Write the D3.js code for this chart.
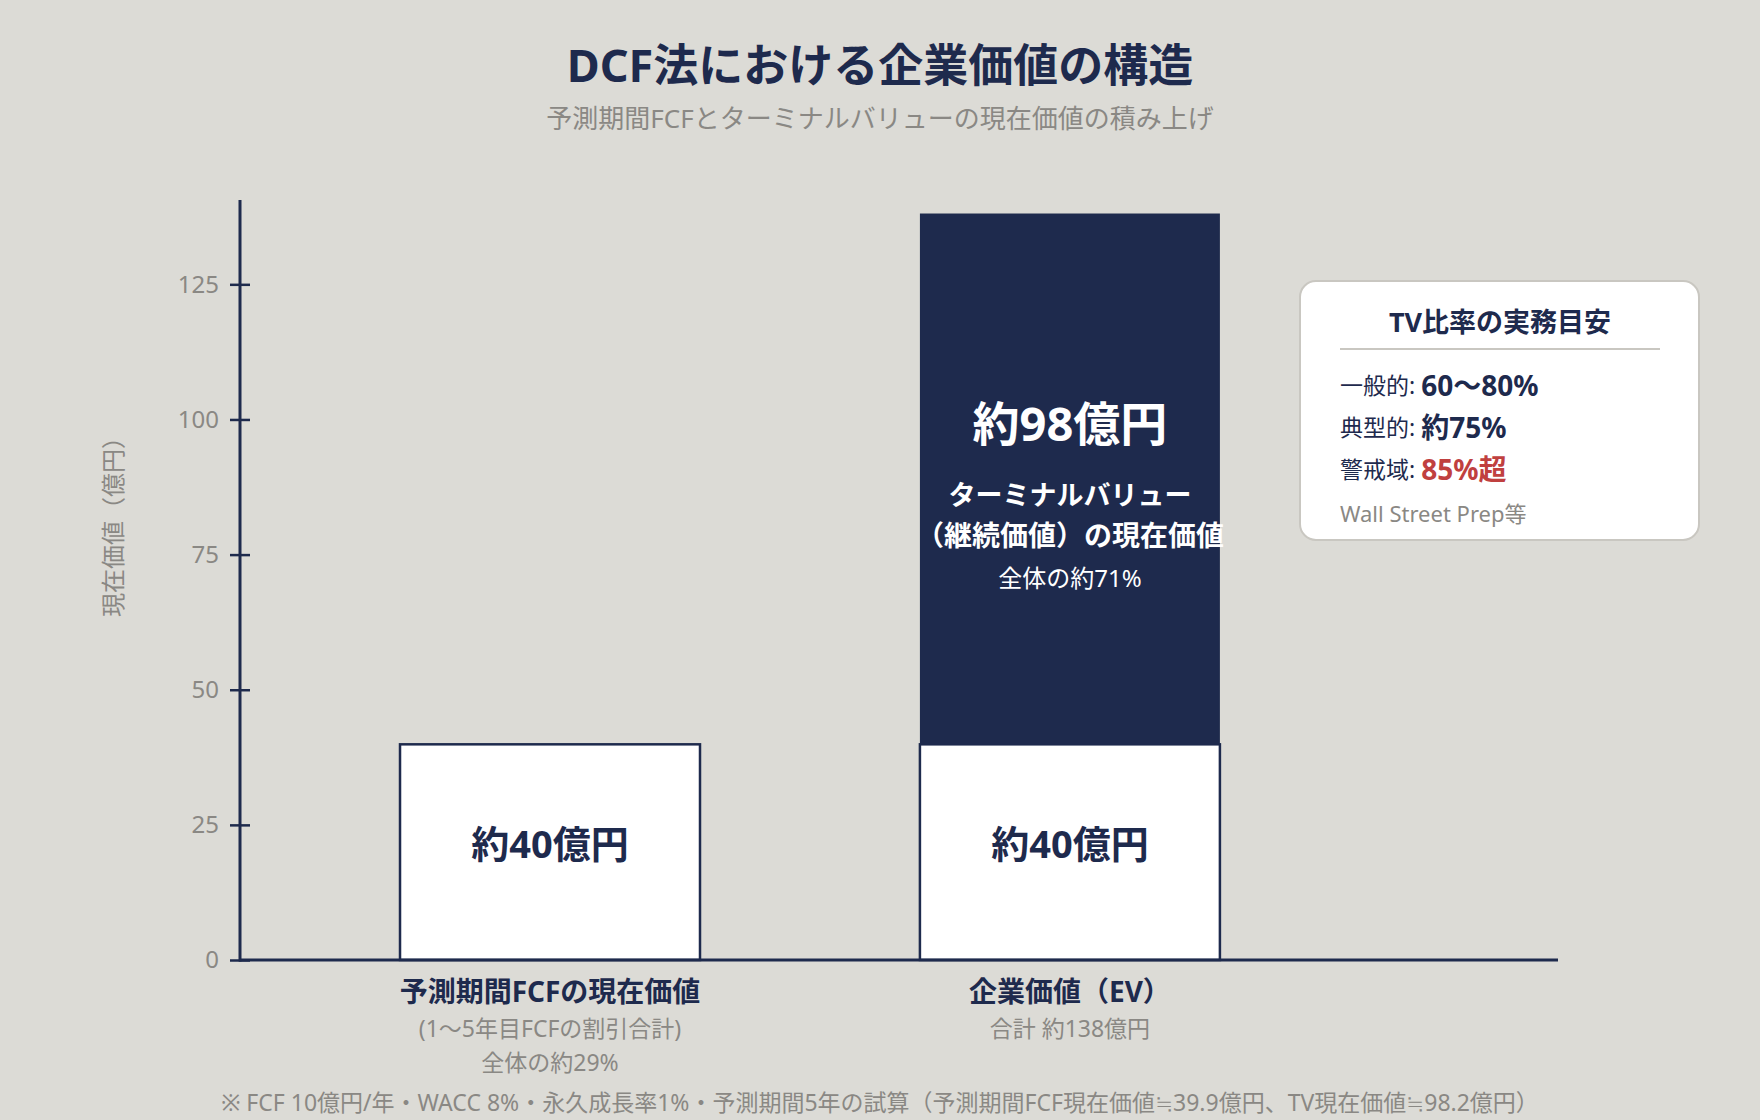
<!DOCTYPE html>
<html lang="ja">
<head>
<meta charset="utf-8">
<script src="https://cdn.jsdelivr.net/npm/d3@7/dist/d3.min.js"></script>
<style>
  html, body { margin: 0; padding: 0; background: #dcdbd6; }
  svg { display: block; font-family: "Noto Sans", "Noto Sans CJK JP", sans-serif; }
</style>
</head>
<body>
<div id="chart"></div>
<script>
// values (億円)
const categories = ['予測期間FCFの現在価値', '企業価値（EV）'];
const subLabels = [['(1〜5年目FCFの割引合計)', '全体の約29%'], ['合計 約138億円']];
const fcfValues = [39.9, 39.9];
const tvValues = [0, 98.2];
const segmentKeys = ['fcf', 'tv'];
const yTicks = [0, 25, 50, 75, 100, 125];
const yMax = 140.6;

const fcfLabels = ['約40億円', '約40億円'];
const tvLabel = ['約98億円', 'ターミナルバリュー', '（継続価値）の現在価値', '全体の約71%'];

const guideTitle = 'TV比率の実務目安';
const guideRows = [
  { label: '一般的: ', value: '60〜80%', warn: false },
  { label: '典型的: ', value: '約75%', warn: false },
  { label: '警戒域: ', value: '85%超', warn: true }
];
const guideSource = 'Wall Street Prep等';

const NAVY = '#1e2a4d';
const GRAY = '#8a8884';
const RED = '#c0403f';

const width = 1760, height = 1120;
const svg = d3.select('#chart').append('svg')
  .attr('width', width)
  .attr('height', height);

svg.append('rect').attr('width', width).attr('height', height).attr('fill', '#dcdbd6');

// title
svg.append('text')
  .attr('x', 880).attr('y', 64)
  .attr('text-anchor', 'middle').attr('dominant-baseline', 'central')
  .attr('font-size', 45).attr('font-weight', 700).attr('fill', NAVY)
  .text('DCF法における企業価値の構造');

svg.append('text')
  .attr('x', 880).attr('y', 118)
  .attr('text-anchor', 'middle').attr('dominant-baseline', 'central')
  .attr('font-size', 26).attr('fill', GRAY)
  .text('予測期間FCFとターミナルバリューの現在価値の積み上げ');

// scales
const x = d3.scaleBand()
  .domain(categories)
  .range([239, 1558])
  .paddingInner(0.423)
  .paddingOuter(0.48)
  .align(0.3226);

const y = d3.scaleLinear()
  .domain([0, yMax])
  .range([960, 200]);

const rows = categories.map((c, i) => ({ cat: c, fcf: fcfValues[i], tv: tvValues[i] }));
const stacked = d3.stack().keys(segmentKeys)(rows);

// bars
const fills = { fcf: '#ffffff', tv: NAVY };
stacked.forEach(layer => {
  svg.append('g')
    .selectAll('rect')
    .data(layer.filter(d => d[1] - d[0] > 0))
    .enter()
    .append('rect')
    .attr('x', d => x(d.data.cat))
    .attr('y', d => y(d[1]))
    .attr('width', x.bandwidth())
    .attr('height', d => y(d[0]) - y(d[1]))
    .attr('fill', fills[layer.key])
    .attr('stroke', NAVY)
    .attr('stroke-width', layer.key === 'fcf' ? 2.5 : 0);
});

// bar labels, fcf segments
stacked[0].forEach((d, i) => {
  svg.append('text')
    .attr('x', x(d.data.cat) + x.bandwidth() / 2)
    .attr('y', (y(d[0]) + y(d[1])) / 2 - 9)
    .attr('text-anchor', 'middle').attr('dominant-baseline', 'central')
    .attr('font-size', 38).attr('font-weight', 700).attr('fill', NAVY)
    .text(fcfLabels[i]);
});

// terminal value segment labels
const tvSeg = stacked[1][1];
const tvMid = (y(tvSeg[0]) + y(tvSeg[1])) / 2;
const tvCx = x(tvSeg.data.cat) + x.bandwidth() / 2;
const tvLines = [
  { dy: -56, size: 47, weight: 700 },
  { dy: 16, size: 27, weight: 700 },
  { dy: 56, size: 28, weight: 700 },
  { dy: 99, size: 24, weight: 400 }
];
tvLines.forEach((l, i) => {
  svg.append('text')
    .attr('x', tvCx).attr('y', tvMid + l.dy)
    .attr('text-anchor', 'middle').attr('dominant-baseline', 'central')
    .attr('font-size', l.size).attr('font-weight', l.weight).attr('fill', '#ffffff')
    .text(tvLabel[i]);
});

// y axis
const yAxis = svg.append('g')
  .attr('transform', 'translate(240,0)')
  .call(d3.axisLeft(y).tickValues(yTicks).tickSize(10).tickPadding(11));
yAxis.select('.domain').remove();
yAxis.selectAll('.tick line')
  .attr('x1', -10).attr('x2', 10)
  .attr('stroke', NAVY).attr('stroke-width', 2.5);
yAxis.selectAll('.tick text')
  .attr('font-size', 24).attr('fill', GRAY)
  .attr('font-family', '"Noto Sans", "Noto Sans CJK JP", sans-serif');

svg.append('line')
  .attr('x1', 240).attr('x2', 240)
  .attr('y1', y.range()[1]).attr('y2', y(0) + 1.5)
  .attr('stroke', NAVY).attr('stroke-width', 3);

// x axis baseline
svg.append('line')
  .attr('x1', 239).attr('x2', 1558)
  .attr('y1', y(0)).attr('y2', y(0))
  .attr('stroke', NAVY).attr('stroke-width', 3);

svg.append('text')
  .attr('transform', 'translate(112,521) rotate(-90)')
  .attr('text-anchor', 'middle').attr('dominant-baseline', 'central')
  .attr('font-size', 24).attr('fill', GRAY)
  .text('現在価値（億円）');

// category labels
categories.forEach((c, i) => {
  const cx = x(c) + x.bandwidth() / 2;
  svg.append('text')
    .attr('x', cx).attr('y', 991)
    .attr('text-anchor', 'middle').attr('dominant-baseline', 'central')
    .attr('font-size', 28).attr('font-weight', 700).attr('fill', NAVY)
    .text(c);
  subLabels[i].forEach((s, j) => {
    svg.append('text')
      .attr('x', cx).attr('y', 1028 + j * 34)
      .attr('text-anchor', 'middle').attr('dominant-baseline', 'central')
      .attr('font-size', 23).attr('fill', GRAY)
      .text(s);
  });
});

// footnote
svg.append('text')
  .attr('x', 880).attr('y', 1102)
  .attr('text-anchor', 'middle').attr('dominant-baseline', 'central')
  .attr('font-size', 23).attr('fill', GRAY)
  .text('※ FCF 10億円/年・WACC 8%・永久成長率1%・予測期間5年の試算（予測期間FCF現在価値≒39.9億円、TV現在価値≒98.2億円）');

// guide card
const card = svg.append('g').attr('transform', 'translate(1300,281)');
card.append('rect')
  .attr('width', 399).attr('height', 259).attr('rx', 16)
  .attr('fill', '#ffffff').attr('stroke', '#c9c7c1').attr('stroke-width', 2);

card.append('text')
  .attr('x', 200).attr('y', 40)
  .attr('text-anchor', 'middle').attr('dominant-baseline', 'central')
  .attr('font-size', 27).attr('font-weight', 700).attr('fill', NAVY)
  .text(guideTitle);

card.append('line')
  .attr('x1', 40).attr('x2', 360).attr('y1', 68).attr('y2', 68)
  .attr('stroke', '#c9c7c1').attr('stroke-width', 2);

guideRows.forEach((r, i) => {
  const t = card.append('text')
    .attr('x', 40).attr('y', 104 + i * 42)
    .attr('dominant-baseline', 'central');
  t.append('tspan').attr('font-size', 23).attr('fill', NAVY).text(r.label);
  t.append('tspan').attr('font-size', 28).attr('font-weight', 700)
    .attr('fill', r.warn ? RED : NAVY).text(r.value);
});

card.append('text')
  .attr('x', 40).attr('y', 232)
  .attr('dominant-baseline', 'central')
  .attr('font-size', 22).attr('fill', GRAY)
  .text(guideSource);
</script>
</body>
</html>
